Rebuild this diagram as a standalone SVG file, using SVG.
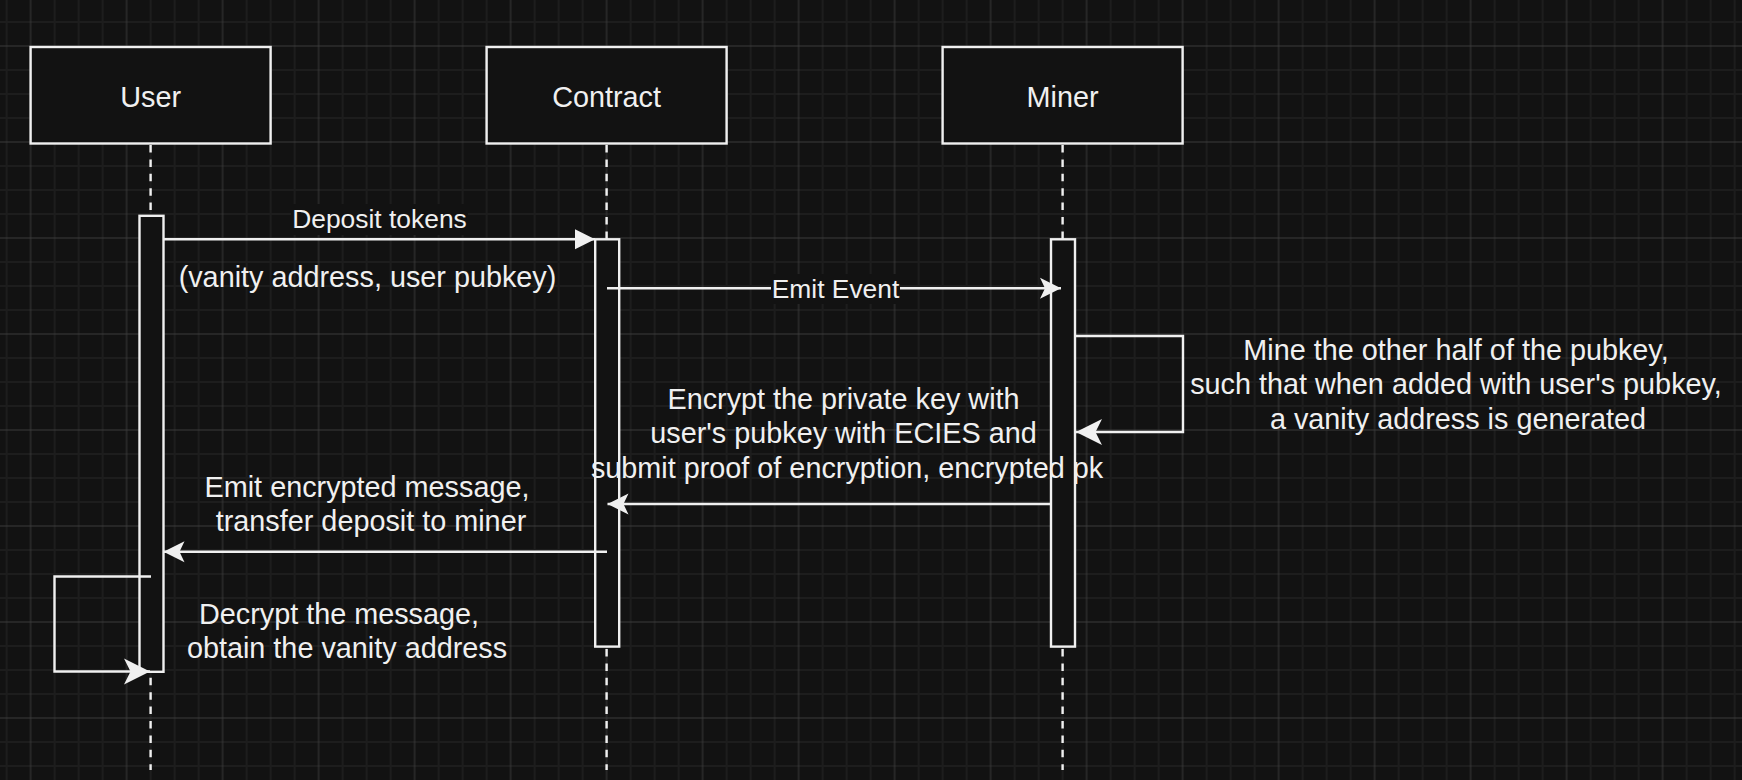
<svg xmlns="http://www.w3.org/2000/svg" width="1742" height="780" viewBox="0 0 1742 780">
  <style>
    .box { fill: #121212; stroke: #f0f0f0; stroke-width: 2.4; }
    .bar { fill: #121212; stroke: #f0f0f0; stroke-width: 2.4; }
    .life { stroke: #f0f0f0; stroke-width: 2.4; stroke-dasharray: 7.5 6.9; fill: none; }
    .edge { stroke: #f0f0f0; stroke-width: 2.4; fill: none; stroke-linejoin: miter; }
    .t { font-family: "Liberation Sans", Arial, Helvetica, sans-serif; fill: #f0f0f0; text-anchor: middle; }
    .t12 { font-size: 28.8px; }
    .t11 { font-size: 26.4px; }
    .lblbg { fill: #121212; }
  </style>
  <defs>
    <pattern id="grid" patternUnits="userSpaceOnUse" x="18.6" y="34" width="96" height="96">
      <path d="M36,0 V96 M60,0 V96 M84,0 V96 M0,36 H96 M0,60 H96 M0,84 H96" stroke="#1d1d1d" stroke-width="2" fill="none"/>
      <path d="M12,0 V96 M0,12 H96" stroke="#3a3a3a" stroke-width="1" fill="none"/>
    </pattern>
    <marker id="block" markerUnits="userSpaceOnUse" markerWidth="21" markerHeight="21" refX="20" refY="10" orient="auto" overflow="visible">
      <path d="M0,0 L20,10 L0,20 Z" fill="#f0f0f0"/>
    </marker>
    <marker id="classic" markerUnits="userSpaceOnUse" markerWidth="22" markerHeight="22" refX="21" refY="11" orient="auto" overflow="visible">
      <path d="M0,0.5 L21,11 L0,21.5 L5,11 Z" fill="#f0f0f0"/>
    </marker>
    <marker id="classicL" markerUnits="userSpaceOnUse" markerWidth="27" markerHeight="27" refX="26" refY="13" orient="auto" overflow="visible">
      <path d="M0,0 L26,13 L0,26 L6.5,13 Z" fill="#f0f0f0"/>
    </marker>
  </defs>

  <rect x="0" y="0" width="1742" height="780" fill="#121212"/>
  <rect x="0" y="0" width="1742" height="780" fill="url(#grid)"/>

  <g id="user">
    <line class="life" x1="150.6" y1="145" x2="150.6" y2="770"/>
    <rect class="box" x="30.6" y="47" width="240" height="96.5"/>
    <text class="t t12" x="150.6" y="106.7">User</text>
    <rect class="bar" x="139.5" y="215.8" width="24" height="456"/>
  </g>

  <g id="contract">
    <line class="life" x1="606.6" y1="145" x2="606.6" y2="770"/>
    <rect class="box" x="486.6" y="47" width="240" height="96.5"/>
    <text class="t t12" x="606.6" y="106.7">Contract</text>
    <rect class="bar" x="595.2" y="239.3" width="24" height="407.3"/>
  </g>

  <g id="miner">
    <line class="life" x1="1062.6" y1="145" x2="1062.6" y2="770"/>
    <rect class="box" x="942.6" y="47" width="240" height="96.5"/>
    <text class="t t12" x="1062.6" y="106.7">Miner</text>
    <rect class="bar" x="1051" y="239.3" width="24" height="407.3"/>
  </g>

  <g id="connectors">
    <!-- Deposit tokens -->
    <path class="edge" d="M163.5,239.3 H595" marker-end="url(#block)"/>
    <rect class="lblbg" x="291" y="204" width="177" height="31"/>
    <text class="t t11" x="379.5" y="228">Deposit tokens</text>
    <text class="t t12" x="367.5" y="286.8">(vanity address, user pubkey)</text>

    <!-- Emit Event -->
    <path class="edge" d="M607,288.3 H1061" marker-end="url(#classic)"/>
    <rect class="lblbg" x="771" y="274" width="129" height="30"/>
    <text class="t t11" x="835.5" y="297.8">Emit Event</text>

    <!-- Miner self loop -->
    <path class="edge" d="M1075,336 H1183 V432 H1076" marker-end="url(#classicL)"/>
    <text class="t t12" x="1456" y="359.5">Mine the other half of the pubkey,</text>
    <text class="t t12" x="1456" y="394">such that when added with user's pubkey,</text>
    <text class="t t12" x="1458" y="428.5">a vanity address is generated</text>

    <!-- Miner -> Contract -->
    <path class="edge" d="M1051,504 H607.5" marker-end="url(#classic)"/>
    <text class="t t12" x="843.5" y="408.5">Encrypt the private key with</text>
    <text class="t t12" x="843.5" y="443">user's pubkey with ECIES and</text>
    <text class="t t12" x="847" y="477.6">submit proof of encryption, encrypted pk</text>

    <!-- Contract -> User -->
    <path class="edge" d="M607,551.7 H163.5" marker-end="url(#classic)"/>
    <text class="t t12" x="367" y="496.7">Emit encrypted message,</text>
    <text class="t t12" x="371" y="531.3">transfer deposit to miner</text>

    <!-- User self loop -->
    <path class="edge" d="M151,576.5 H54.5 V671.5 H150" marker-end="url(#classicL)"/>
    <text class="t t12" x="339" y="623.5">Decrypt the message,</text>
    <text class="t t12" x="347" y="658">obtain the vanity address</text>
  </g>
</svg>
